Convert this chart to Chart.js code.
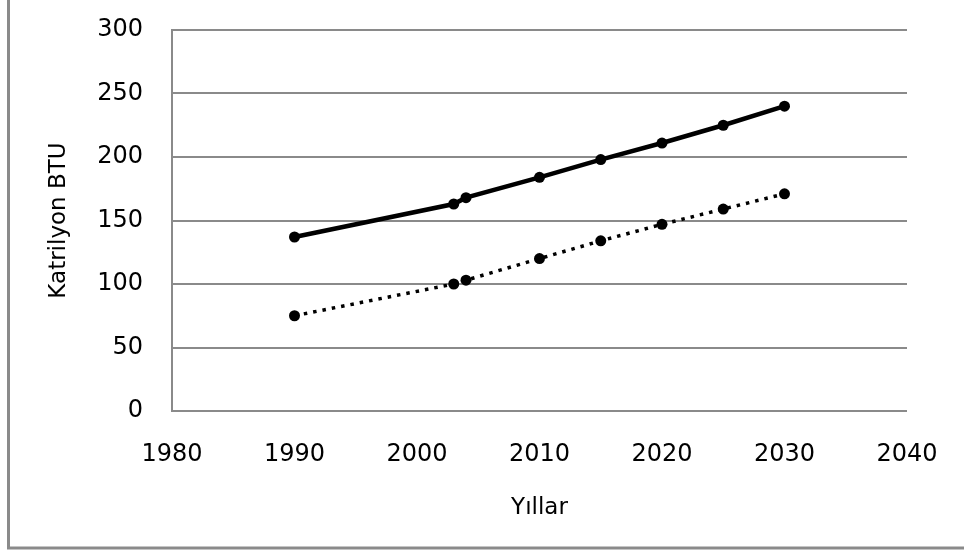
<!DOCTYPE html>
<html>
<head>
<meta charset="utf-8">
<script src="https://cdn.jsdelivr.net/npm/chart.js@4"></script>
<style>
  html, body { margin: 0; padding: 0; background: #fff; }
  #wrap { width: 964px; height: 557px; }
</style>
</head>
<body>
<div id="wrap"><canvas id="lineChart" width="964" height="557"></canvas></div>
<script>
const years = [1990, 2003, 2004, 2010, 2015, 2020, 2025, 2030];
const solidValues = [137, 163, 168, 184, 198, 211, 225, 240];
const dottedValues = [75, 100, 103, 120, 134, 147, 159, 171];
const xTicks = [1980, 1990, 2000, 2010, 2020, 2030, 2040];
const yTicks = [0, 50, 100, 150, 200, 250, 300];

const toPoints = (vals) => years.map((y, i) => ({ x: y, y: vals[i] }));

// grey frame round the picture (only left and bottom edges show)
const framePlugin = {
  id: "frame",
  beforeDraw(chart) {
    const c = chart.ctx;
    c.save();
    c.fillStyle = "#fff";
    c.fillRect(0, 0, chart.width, chart.height);
    c.strokeStyle = "#8a8a8a";
    c.lineWidth = 3;
    c.strokeRect(8.5, -10, 1000, 558);
    c.restore();
  },
};

const ctx = document.getElementById("lineChart").getContext("2d");

new Chart(ctx, {
  type: "line",
  data: {
    datasets: [
      {
        data: toPoints(solidValues),
        borderColor: "#000",
        backgroundColor: "#000",
        borderWidth: 4.5,
        pointRadius: 5.5,
        pointBackgroundColor: "#000",
        pointBorderWidth: 0,
        tension: 0,
      },
      {
        data: toPoints(dottedValues),
        borderColor: "#000",
        backgroundColor: "#000",
        borderWidth: 3.5,
        borderDash: [3.5, 6],
        pointRadius: 5.5,
        pointBackgroundColor: "#000",
        pointBorderWidth: 0,
        tension: 0,
      },
    ],
  },
  options: {
    responsive: false,
    animation: false,
    layout: { padding: { top: 30, right: 57, left: 0, bottom: 0 } },
    plugins: {
      legend: { display: false },
      tooltip: { enabled: false },
    },
    scales: {
      x: {
        type: "linear",
        min: 1980,
        max: 2040,
        afterBuildTicks: (scale) => {
          scale.ticks = xTicks.map((v) => ({ value: v }));
        },
        afterFit: (scale) => {
          scale.height = 146;
        },
        grid: { display: false },
        border: { display: false },
        ticks: {
          color: "#000",
          padding: 21,
          maxRotation: 0,
          callback: (v) => String(v),
          font: { family: "DejaVu Sans", size: 24 },
        },
        title: {
          display: true,
          text: "Yıllar",
          color: "#000",
          padding: { top: 0, bottom: 35 },
          font: { family: "DejaVu Sans", size: 23 },
        },
      },
      y: {
        min: 0,
        max: 300,
        afterBuildTicks: (scale) => {
          scale.ticks = yTicks.map((v) => ({ value: v }));
        },
        afterFit: (scale) => {
          scale.width = 172;
          scale.paddingTop = 0;
          scale.paddingBottom = 0;
        },
        grid: {
          color: "#8a8a8a",
          lineWidth: 2,
          drawTicks: false,
        },
        border: { display: true, color: "#8a8a8a", width: 2 },
        ticks: {
          color: "#000",
          padding: 29,
          font: { family: "DejaVu Sans", size: 24 },
        },
        title: {
          display: true,
          text: "Katrilyon BTU",
          color: "#000",
          padding: { top: 45, bottom: 0 },
          font: { family: "DejaVu Sans", size: 23 },
        },
      },
    },
  },
  plugins: [framePlugin],
});
</script>
</body>
</html>
